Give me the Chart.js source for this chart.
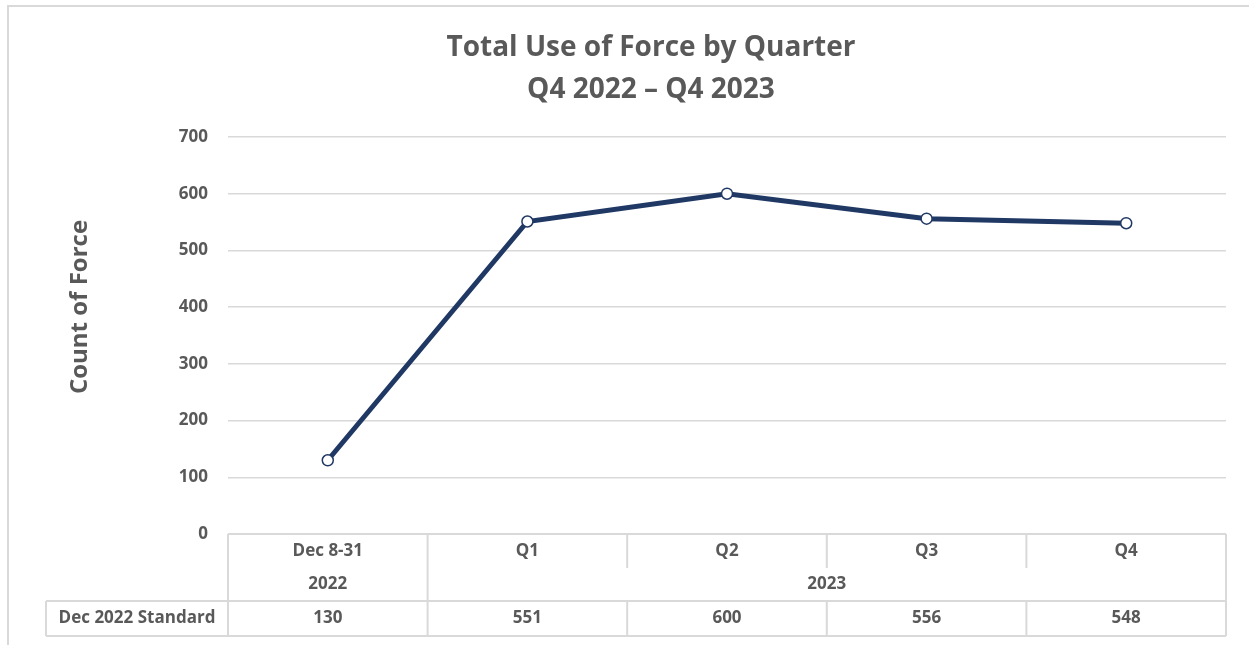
<!DOCTYPE html>
<html>
<head>
<meta charset="utf-8">
<script src="https://cdn.jsdelivr.net/npm/chart.js@4"></script>
<style>
html,body{margin:0;padding:0;background:#fff;}
#wrap{width:1249px;height:645px;position:relative;}
</style>
</head>
<body>
<div id="wrap"><canvas id="c" width="1249" height="645"></canvas></div>
<script>
const categories = ["Dec 8-31", "Q1", "Q2", "Q3", "Q4"];
const years = [{label: "2022", from: 0, to: 0}, {label: "2023", from: 1, to: 4}];
const seriesName = "Dec 2022 Standard";
const values = [130, 551, 600, 556, 548];
const titleLines = ["Total Use of Force by Quarter", "Q4 2022 \u2013 Q4 2023"];
const yTitle = "Count of Force";

const FONT = "'Open Sans', sans-serif";
const TXT = "#595959";
const GRID = "#d9d9d9";

const tablePlugin = {
  id: "tablePlugin",
  beforeDraw(chart) {
    const ctx = chart.ctx;
    ctx.save();
    ctx.fillStyle = "#fff";
    ctx.fillRect(0, 0, chart.width, chart.height);
    ctx.strokeStyle = GRID;
    ctx.lineWidth = 2;
    ctx.strokeRect(8, 6, chart.width + 20, chart.height + 20);
    ctx.restore();
  },
  afterDraw(chart) {
    const ctx = chart.ctx;
    const x = chart.scales.x;
    const a = chart.chartArea;
    const n = categories.length;
    const half = (x.getPixelForValue(1) - x.getPixelForValue(0)) / 2;
    const edge = i => x.getPixelForValue(i) - half;
    const y0 = a.bottom, y1 = y0 + 34, y2 = y0 + 67, y3 = y0 + 102;
    const leftCol = 46;
    ctx.save();
    // title
    ctx.fillStyle = TXT;
    ctx.textAlign = "center";
    ctx.textBaseline = "middle";
    ctx.font = "bold 28px " + FONT;
    ctx.fillText(titleLines[0], 651, 48);
    ctx.fillText(titleLines[1], 651, 90);
    // y axis title
    ctx.save();
    ctx.translate(80, 307);
    ctx.rotate(-Math.PI / 2);
    ctx.font = "bold 24px " + FONT;
    ctx.fillText(yTitle, 0, 0);
    ctx.restore();
    // table lines
    ctx.strokeStyle = GRID;
    ctx.lineWidth = 2;
    ctx.beginPath();
    ctx.moveTo(edge(0), y0); ctx.lineTo(edge(n), y0);
    ctx.moveTo(leftCol, y2); ctx.lineTo(edge(n), y2);
    ctx.moveTo(leftCol, y3); ctx.lineTo(edge(n), y3);
    ctx.moveTo(leftCol, y2); ctx.lineTo(leftCol, y3);
    for (let i = 0; i <= n; i++) {
      const isYearEdge = years.some(y => y.from === i || y.to + 1 === i);
      ctx.moveTo(edge(i), y0);
      ctx.lineTo(edge(i), isYearEdge ? y3 : y1);
      if (!isYearEdge) { ctx.moveTo(edge(i), y2); ctx.lineTo(edge(i), y3); }
    }
    ctx.stroke();
    // texts
    ctx.fillStyle = TXT;
    ctx.font = "bold 17px " + FONT;
    categories.forEach((c, i) => ctx.fillText(c, x.getPixelForValue(i), (y0 + y1) / 2));
    years.forEach(y => {
      const cx = (edge(y.from) + edge(y.to + 1)) / 2;
      ctx.fillText(y.label, cx, (y1 + y2) / 2);
    });
    values.forEach((v, i) => ctx.fillText(String(v), x.getPixelForValue(i), (y2 + y3) / 2));
    ctx.fillText(seriesName, (leftCol + edge(0)) / 2, (y2 + y3) / 2);
    ctx.restore();
  }
};

new Chart(document.getElementById("c"), {
  type: "line",
  data: {
    labels: categories,
    datasets: [{
      label: seriesName,
      data: values,
      borderColor: "#203864",
      borderWidth: 5,
      pointBackgroundColor: "#ffffff",
      pointBorderColor: "#203864",
      pointBorderWidth: 1.5,
      pointRadius: 5.5,
      tension: 0
    }]
  },
  options: {
    responsive: false,
    animation: false,
    layout: { padding: { top: 137, bottom: 111, left: 8, right: 23 } },
    plugins: { legend: { display: false }, title: { display: false }, tooltip: { enabled: false } },
    scales: {
      x: { display: false, offset: true },
      y: {
        min: 0, max: 700,
        ticks: { stepSize: 100, color: TXT, font: { family: FONT, weight: "bold", size: 17 }, padding: 20 },
        grid: { color: GRID, lineWidth: 1.5, drawTicks: false },
        border: { display: false },
        title: { display: false },
        afterFit(scale) { scale.width = 220; }
      }
    }
  },
  plugins: [tablePlugin]
});
</script>
</body>
</html>
